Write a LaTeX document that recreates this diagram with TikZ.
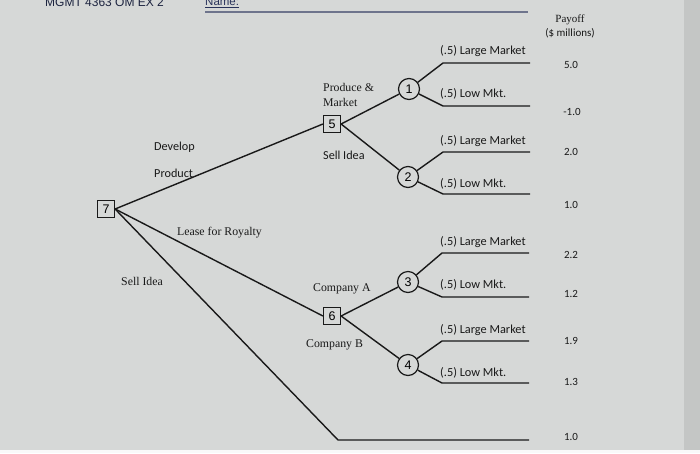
\documentclass[tikz,border=0pt]{standalone}
\usepackage{fontspec}
\setmainfont{Liberation Serif}
\newfontfamily\calfnt{Carlito}
\newfontfamily\arifnt{Liberation Sans}
\definecolor{paper}{RGB}{214,216,215}
\definecolor{edge}{RGB}{196,198,197}
\definecolor{ink}{RGB}{25,25,25}
\definecolor{namec}{RGB}{40,50,90}
\begin{document}
\begin{tikzpicture}[x=1pt,y=-1pt,
  dec/.style={draw=ink,line width=1.2pt,minimum size=17pt,inner sep=0pt,font=\arifnt\fontsize{12.5}{12}\selectfont},
  chance/.style={circle,draw=ink,line width=1.2pt,minimum size=21pt,inner sep=0pt,font=\arifnt\fontsize{12.5}{12}\selectfont},
  br/.style={draw=ink,line width=1.4pt},
  prob/.style={font=\calfnt\fontsize{12.3}{12}\selectfont,anchor=west,inner sep=0pt,text=ink},
  pay/.style={font=\calfnt\fontsize{11}{12}\selectfont,inner sep=0pt,text=ink},
  sertxt/.style={font=\fontsize{11.8}{12}\selectfont,inner sep=0pt,text=ink},
  caltxt/.style={font=\calfnt\fontsize{12.2}{12}\selectfont,inner sep=0pt,text=ink}]
\useasboundingbox (0,0) rectangle (700,453);
\fill[paper] (0,0) rectangle (700,453);
\fill[edge] (684,0) rectangle (700,453);
\fill[white!85!paper] (0,450) rectangle (700,453);
% header
\node[font=\arifnt\fontsize{12}{12}\selectfont,inner sep=0pt,anchor=base west,text=namec!70!black] (hdr) at (45,6) {MGMT 4363 OM EX 2};
\node[font=\arifnt\fontsize{11.5}{12}\selectfont,inner sep=0pt,anchor=base west,text=namec] (nm) at (205,5.5) {\underline{Name:}};
\coordinate (nl1) at (205,12);
\coordinate (nl2) at (528,12);
\draw[namec!60!paper,line width=1.3pt] (nl1) -- (nl2);
\node[align=center,inner sep=0pt,font=\calfnt\fontsize{11}{14}\selectfont,text=ink] (payoff) at (570,26) {{\rmfamily Payoff}\\(\$ millions)};
% decision and chance nodes
\node[dec] (n7) at (106,209) {7};
\node[dec] (n5) at (332,124) {5};
\node[dec] (n6) at (332,316) {6};
\node[chance] (n1) at (409,89) {1};
\node[chance] (n2) at (408,177) {2};
\node[chance] (n3) at (408,282) {3};
\node[chance] (n4) at (408,365) {4};
% kinks and ends
\coordinate (k1a) at (443,63);  \coordinate (e1a) at (530,63);
\coordinate (k1b) at (443,106); \coordinate (e1b) at (530,106);
\coordinate (k2a) at (443,152); \coordinate (e2a) at (530,152);
\coordinate (k2b) at (443,194); \coordinate (e2b) at (530,194);
\coordinate (k3a) at (442,253); \coordinate (e3a) at (529,253);
\coordinate (k3b) at (442,297); \coordinate (e3b) at (529,297);
\coordinate (k4a) at (442,341); \coordinate (e4a) at (529,341);
\coordinate (k4b) at (442,383); \coordinate (e4b) at (529,383);
\coordinate (ks) at (338,440);  \coordinate (es) at (529,440);
% branches
\draw[br] (n7.east) -- (n5.west);
\draw[br] (n7.east) -- (n6.west);
\draw[br] (n7.east) -- (ks) -- (es);
\draw[br] (n5.east) -- (n1);
\draw[br] (n5.east) -- (n2);
\draw[br] (n6.east) -- (n3);
\draw[br] (n6.east) -- (n4);
\draw[br] (n1) -- (k1a) -- (e1a);
\draw[br] (n1) -- (k1b) -- (e1b);
\draw[br] (n2) -- (k2a) -- (e2a);
\draw[br] (n2) -- (k2b) -- (e2b);
\draw[br] (n3) -- (k3a) -- (e3a);
\draw[br] (n3) -- (k3b) -- (e3b);
\draw[br] (n4) -- (k4a) -- (e4a);
\draw[br] (n4) -- (k4b) -- (e4b);
% probability labels
\node[prob] (l1a) at (440,51) {(.5) Large Market};
\node[prob] (l1b) at (440,94) {(.5) Low Mkt.};
\node[prob] (l2a) at (440,141) {(.5) Large Market};
\node[prob] (l2b) at (440,184) {(.5) Low Mkt.};
\node[prob] (l3a) at (440,242) {(.5) Large Market};
\node[prob] (l3b) at (440,285) {(.5) Low Mkt.};
\node[prob] (l4a) at (440,330) {(.5) Large Market};
\node[prob] (l4b) at (440,373) {(.5) Low Mkt.};
% payoffs
\node[pay] (p1) at (571,65) {5.0};
\node[pay] (p2) at (572,112) {-1.0};
\node[pay] (p3) at (571,152) {2.0};
\node[pay] (p4) at (571,205) {1.0};
\node[pay] (p5) at (571,255) {2.2};
\node[pay] (p6) at (571,294) {1.2};
\node[pay] (p7) at (571,341) {1.9};
\node[pay] (p8) at (571,382) {1.3};
\node[pay] (p9) at (571,437) {1.0};
% branch labels
\node[align=left,anchor=west,inner sep=0pt,font=\fontsize{11.8}{14.5}\selectfont,text=ink] (pm) at (323,95) {Produce \&\\Market};
\node[caltxt,anchor=west] (si1) at (323,155) {Sell Idea};
\node[caltxt,anchor=west] (dev) at (154,147) {Develop};
\node[caltxt,anchor=west] (prd) at (154,173) {Product};
\node[sertxt,anchor=west] (lfr) at (177,233) {Lease for Royalty};
\node[sertxt,anchor=west] (si2) at (121,281) {Sell Idea};
\node[sertxt,anchor=west] (ca) at (313,289) {Company A};
\node[sertxt,anchor=west] (cb) at (306,345) {Company B};
\end{tikzpicture}
\end{document}
